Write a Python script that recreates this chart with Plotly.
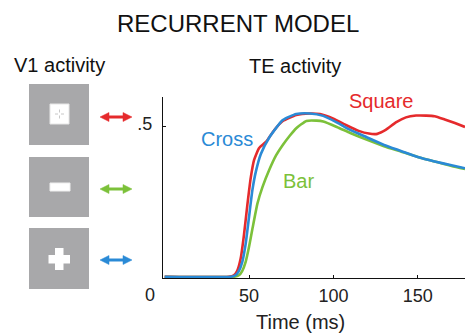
import plotly.graph_objects as go

# ---- data ----
t_square = [0, 38, 41, 43, 45, 47, 49, 51, 53, 56, 60, 65, 70, 78, 86, 92, 100, 108, 115, 121, 126, 131, 137, 143, 149, 155, 160, 166, 172, 178]
v_square = [0, 0, 0.005, 0.02, 0.06, 0.14, 0.24, 0.33, 0.39, 0.43, 0.45, 0.49, 0.52, 0.54, 0.545, 0.543, 0.528, 0.505, 0.487, 0.478, 0.477, 0.49, 0.515, 0.532, 0.538, 0.538, 0.536, 0.525, 0.513, 0.5]

t_cross = [0, 39, 42, 44, 46, 48, 50, 52, 54, 57, 62, 70, 78, 86, 94, 102, 110, 120, 130, 140, 150, 160, 170, 178]
v_cross = [0, 0, 0.005, 0.02, 0.05, 0.11, 0.2, 0.29, 0.35, 0.41, 0.465, 0.523, 0.543, 0.545, 0.537, 0.515, 0.49, 0.465, 0.44, 0.42, 0.4, 0.385, 0.372, 0.362]

t_bar = [0, 41, 44, 46, 48, 50, 52, 55, 58, 62, 66, 70, 74, 78, 84, 90, 94, 102, 110, 120, 130, 140, 150, 160, 170, 178]
v_bar = [0, 0, 0.005, 0.02, 0.05, 0.1, 0.16, 0.245, 0.3, 0.357, 0.405, 0.44, 0.47, 0.496, 0.52, 0.521, 0.518, 0.5, 0.48, 0.457, 0.436, 0.418, 0.4, 0.385, 0.37, 0.36]

x_tick_vals = [50, 100, 150]
x_tick_text = ["50", "100", "150"]
y_tick_vals = [0.5]
y_tick_text = [".5"]

RED = "#e52a2c"
GREEN = "#7cc13a"
BLUE = "#2a8ad6"
FONT = "Liberation Sans, Arial, sans-serif"

W, H = 465, 333


def px(x):
    return x / W


def py(y):
    return 1 - y / H


fig = go.Figure()
fig.add_trace(go.Scatter(x=t_bar, y=v_bar, mode="lines", line=dict(color=GREEN, width=2.6, shape="spline", smoothing=0.5), name="Bar"))
fig.add_trace(go.Scatter(x=t_square, y=v_square, mode="lines", line=dict(color=RED, width=2.6, shape="spline", smoothing=0.5), name="Square"))
fig.add_trace(go.Scatter(x=t_cross, y=v_cross, mode="lines", line=dict(color=BLUE, width=2.6, shape="spline", smoothing=0.5), name="Cross"))

shapes = []
# gray stimulus squares
for (y0, y1) in [(84, 145), (157, 217), (228, 289)]:
    shapes.append(dict(type="rect", xref="paper", yref="paper", x0=px(29), x1=px(89), y0=py(y1), y1=py(y0),
                       fillcolor="#a8a8aa", line=dict(width=0), layer="above"))
# white square
shapes.append(dict(type="rect", xref="paper", yref="paper", x0=px(50), x1=px(69), y0=py(124), y1=py(104),
                   fillcolor="white", line=dict(color="#e6e6e6", width=1), layer="above"))
# faint dotted cross inside the square
shapes.append(dict(type="line", xref="paper", yref="paper", x0=px(55), x1=px(64), y0=py(114), y1=py(114),
                   line=dict(color="#c8c8c8", width=1, dash="dot"), layer="above"))
shapes.append(dict(type="line", xref="paper", yref="paper", x0=px(59.5), x1=px(59.5), y0=py(118.5), y1=py(109.5),
                   line=dict(color="#c8c8c8", width=1, dash="dot"), layer="above"))
# white bar
shapes.append(dict(type="rect", xref="paper", yref="paper", x0=px(50), x1=px(70), y0=py(191), y1=py(183),
                   fillcolor="white", line=dict(color="#eeeeee", width=1), layer="above"))
# white cross
shapes.append(dict(type="rect", xref="paper", yref="paper", x0=px(48.5), x1=px(70), y0=py(263.5), y1=py(255),
                   fillcolor="white", line=dict(width=0), layer="above"))
shapes.append(dict(type="rect", xref="paper", yref="paper", x0=px(55), x1=px(63.5), y0=py(270), y1=py(248),
                   fillcolor="white", line=dict(width=0), layer="above"))

# double-headed arrows
for (yc, col) in [(117, RED), (189, GREEN), (260, BLUE)]:
    shapes.append(dict(type="line", xref="paper", yref="paper", x0=px(106), x1=px(126), y0=py(yc), y1=py(yc),
                       line=dict(color=col, width=3), layer="above"))
    for (tip, base) in [(100, 109), (132, 123)]:
        path = "M {} {} L {} {} L {} {} Z".format(px(tip), py(yc), px(base), py(yc - 4.5), px(base), py(yc + 4.5))
        shapes.append(dict(type="path", xref="paper", yref="paper", path=path, fillcolor=col,
                           line=dict(color=col, width=0.5), layer="above"))

annotations = [
    dict(text="RECURRENT MODEL", x=px(238), y=py(23), font=dict(size=24, color="#111111")),
    dict(text="V1 activity", x=px(59.5), y=py(65), font=dict(size=20, color="#111111")),
    dict(text="TE activity", x=px(295), y=py(66), font=dict(size=20, color="#111111")),
    dict(text="Time (ms)", x=px(300), y=py(322), font=dict(size=20, color="#222222")),
    dict(text="0", x=px(150), y=py(295), font=dict(size=18, color="#222222")),
    dict(text="Square", x=px(381), y=py(101), font=dict(size=20, color=RED)),
    dict(text="Cross", x=px(226.5), y=py(139), font=dict(size=20, color=BLUE)),
    dict(text="Bar", x=px(298.5), y=py(181), font=dict(size=20, color=GREEN)),
]
for a in annotations:
    a.update(xref="paper", yref="paper", showarrow=False, xanchor="center", yanchor="middle")

fig.update_layout(
    width=W, height=H,
    margin=dict(l=0, r=0, t=0, b=0),
    paper_bgcolor="white", plot_bgcolor="white",
    showlegend=False,
    font=dict(family=FONT, color="#222222"),
    shapes=shapes,
    annotations=annotations,
    xaxis=dict(domain=[163 / W, 1], range=[-1, 178], automargin=False,
               showgrid=False, zeroline=False, showline=True, linecolor="#111111", linewidth=1.4,
               ticks="inside", ticklen=3, tickwidth=1.2, tickcolor="#111111",
               tickvals=x_tick_vals, ticktext=x_tick_text, tickfont=dict(size=18, color="#222222"),
               ticklabelstandoff=1, layer="below traces"),
    yaxis=dict(domain=[(H - 278) / H, (H - 97) / H], range=[-0.004, 0.6], automargin=False,
               showgrid=False, zeroline=False, showline=True, linecolor="#111111", linewidth=1.4,
               ticks="inside", ticklen=3, tickwidth=1.2, tickcolor="#111111",
               tickvals=y_tick_vals, ticktext=y_tick_text, tickfont=dict(size=18, color="#222222"),
               ticklabelstandoff=6, ticklabelshift=-3, layer="below traces"),
)

fig.write_html("out.html")
